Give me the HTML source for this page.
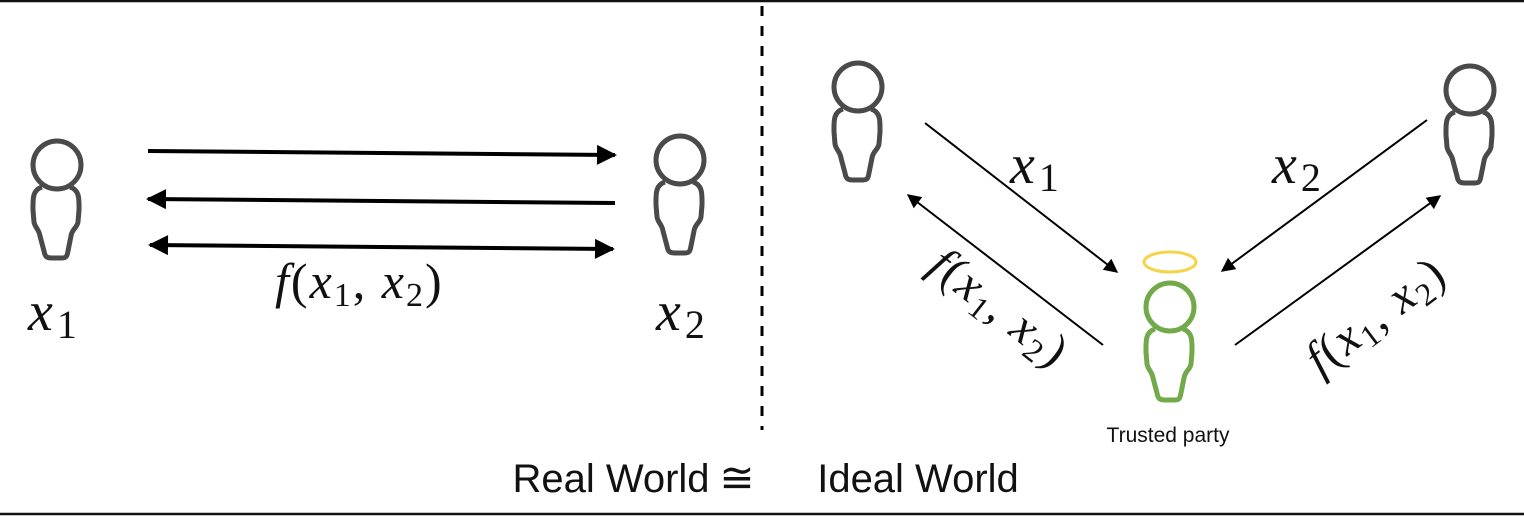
<!DOCTYPE html>
<html><head><meta charset="utf-8"><style>
html,body{margin:0;padding:0;background:#fff;}
svg{display:block;}
.m{font-family:"Liberation Serif",serif;font-style:italic;fill:#111;}
.s{font-style:normal;}
</style></head><body>
<svg width="1524" height="516" viewBox="0 0 1524 516">
<defs>
<marker id="ah" viewBox="0 0 10 10" refX="9" refY="5" markerWidth="6" markerHeight="5" orient="auto-start-reverse" markerUnits="strokeWidth"><path d="M0,0 L10,5 L0,10 z" fill="#000"/></marker>
<marker id="ah2" viewBox="0 0 10 10" refX="9" refY="5" markerWidth="9" markerHeight="7" orient="auto-start-reverse" markerUnits="strokeWidth"><path d="M0,0 L10,5 L0,10 z" fill="#000"/></marker>
<symbol id="person" viewBox="-30 -30 60 130" overflow="visible">
<circle cx="0" cy="0" r="24"/>
<path d="M-15,22 C-25,25 -24,35 -24,45 L-23,57 C-22,63 -18,64 -17,71 L-13,86 C-12,92 -10,93 -5,93 L4,93 C9,93 10,92 11,86 L14,71 C15,64 20,63 21,57 L22,45 C22,35 23,25 13,22"/>
</symbol>
</defs>
<line x1="0" y1="1" x2="1524" y2="1" stroke="#111" stroke-width="2.5"/>
<line x1="0" y1="514" x2="1524" y2="514" stroke="#111" stroke-width="2.5"/>
<line x1="762" y1="6" x2="762" y2="430" stroke="#000" stroke-width="3" stroke-dasharray="10 10"/>

<g fill="none" stroke="#4a4a4a" stroke-width="5">
<use href="#person" x="27" y="135" width="60" height="130"/>
<use href="#person" x="650" y="130" width="60" height="130"/>
<use href="#person" x="828" y="57" width="60" height="130"/>
<use href="#person" x="1440" y="60" width="60" height="130"/>
</g>
<g fill="none" stroke="#72a94a" stroke-width="5">
<use href="#person" x="1140" y="277" width="60" height="130"/>
</g>
<ellipse cx="1170" cy="262" rx="26" ry="10" fill="none" stroke="#f5d44a" stroke-width="3"/>

<g stroke="#000" stroke-width="4">
<line x1="148" y1="151" x2="615" y2="155" marker-end="url(#ah)"/>
<line x1="615" y1="203" x2="148" y2="199" marker-end="url(#ah)"/>
<line x1="150" y1="245" x2="613" y2="249" marker-start="url(#ah)" marker-end="url(#ah)"/>
</g>
<g stroke="#000" stroke-width="2">
<line x1="925" y1="123" x2="1117" y2="272" marker-end="url(#ah2)"/>
<line x1="1427" y1="120" x2="1222" y2="271" marker-end="url(#ah2)"/>
<line x1="1103" y1="345" x2="908" y2="195" marker-end="url(#ah2)"/>
<line x1="1235" y1="345" x2="1440" y2="196" marker-end="url(#ah2)"/>
</g>

<text class="m" x="28" y="330" font-size="56">x<tspan class="s" font-size="40" dy="8" dx="4">1</tspan></text>
<text class="m" x="656" y="330" font-size="56">x<tspan class="s" font-size="40" dy="8" dx="4">2</tspan></text>
<text class="m" x="275" y="298" font-size="50" letter-spacing="2">f<tspan class="s">(</tspan>x<tspan class="s" font-size="34" dy="8">1</tspan><tspan class="s" dy="-8">, </tspan>x<tspan class="s" font-size="34" dy="8">2</tspan><tspan class="s" dy="-8">)</tspan></text>
<text class="m" x="1010" y="183" font-size="56">x<tspan class="s" font-size="40" dy="8" dx="4">1</tspan></text>
<text class="m" x="1272" y="183" font-size="56">x<tspan class="s" font-size="40" dy="8" dx="4">2</tspan></text>
<text class="m" font-size="48" letter-spacing="2" text-anchor="middle" transform="translate(990,320) rotate(38)">f<tspan class="s">(</tspan>x<tspan class="s" font-size="32" dy="8">1</tspan><tspan class="s" dy="-8">, </tspan>x<tspan class="s" font-size="32" dy="8">2</tspan><tspan class="s" dy="-8">)</tspan></text>
<text class="m" font-size="48" letter-spacing="2" text-anchor="middle" transform="translate(1385,328) rotate(-37)">f<tspan class="s">(</tspan>x<tspan class="s" font-size="32" dy="8">1</tspan><tspan class="s" dy="-8">, </tspan>x<tspan class="s" font-size="32" dy="8">2</tspan><tspan class="s" dy="-8">)</tspan></text>

<text x="1168" y="442" font-family="Liberation Sans, sans-serif" font-size="21" text-anchor="middle" fill="#111">Trusted party</text>
<text x="611" y="492" font-family="Liberation Sans, sans-serif" font-size="40" text-anchor="middle" fill="#111">Real World</text>
<text x="737" y="492" font-family="Liberation Sans, DejaVu Sans, sans-serif" font-size="42" text-anchor="middle" fill="#111">≅</text>
<text x="918" y="492" font-family="Liberation Sans, sans-serif" font-size="40" text-anchor="middle" fill="#111">Ideal World</text>
</svg>
</body></html>
